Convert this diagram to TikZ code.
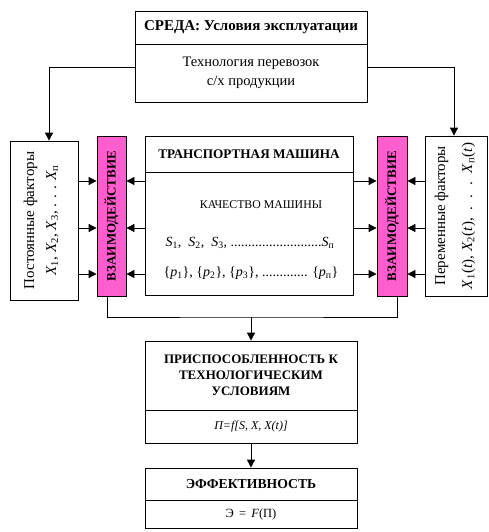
\documentclass[tikz,border=0pt]{standalone}
\usepackage{fontspec}
\setmainfont{Liberation Serif}
\usetikzlibrary{arrows.meta}
\definecolor{vzpink}{RGB}{255,94,206}
\newcommand{\xs}[1]{\textit{X}\textsubscript{#1}}
\newcommand{\fsz}[1]{\fontsize{#1}{#1}\selectfont}
\begin{document}
\begin{tikzpicture}[x=1pt, y=-1pt,
    box/.style={draw, line width=0.8pt, inner sep=0pt},
    vzbox/.style={box, fill=vzpink, minimum width=29pt, minimum height=160pt},
    hdr/.style={font=\fsz{13}\bfseries},
    txt/.style={font=\fsz{14}},
    arr/.style={-{Triangle[length=8pt,width=8pt]}, line width=0.8pt}]
        \useasboundingbox (0,0) rectangle (488,532);

        % Среда
        \node[box, hdr, font=\fsz{15}\bfseries, minimum width=232pt, minimum height=33pt] (sreda) at (251,27.5) {СРЕДА: Условия эксплуатации};
        \node[box, txt, font=\fsz{14.5}, minimum width=232pt, minimum height=58pt, align=center] (tech) at (251,73) {Технология перевозок\\[4pt] с/х продукции};

        % Факторы
        \node[box, minimum width=68pt, minimum height=159pt] (postL) at (44,220.5) {};
        \node[txt, font=\fsz{15}, rotate=90, align=center] (postT) at ([xshift=-3pt]postL.center) {Постоянные факторы\\[7pt] \xs{1}, \xs{2}, \xs{3}, . . . \xs{п}};
        \node[box, minimum width=62pt, minimum height=160pt] (perR) at (456,216) {};
        \node[txt, font=\fsz{15}, rotate=90, align=center] (perT) at ([xshift=-1pt]perR.center) {Переменные факторы\\[12pt] \xs{1}(\textit{t}), \xs{2}(\textit{t}), \ . \ . \ . \ \xs{п}(\textit{t})};

        % Взаимодействие
        \node[vzbox] (vzL) at (111.5,216) {};
        \node[hdr, rotate=90] (vzLT) at (vzL.center) {ВЗАИМОДЕЙСТВИЕ};
        \node[vzbox, minimum width=30pt] (vzR) at (392,216) {};
        \node[hdr, rotate=90] (vzRT) at (vzR.center) {ВЗАИМОДЕЙСТВИЕ};

        % Транспортная машина
        \node[box, hdr, font=\fsz{13.2}\bfseries, minimum width=208pt, minimum height=36pt] (tm) at (249,154) {ТРАНСПОРТНАЯ МАШИНА};
        \node[box, minimum width=208pt, minimum height=123pt] (kach) at (249,233.5) {};
        \node[txt, font=\fsz{11.8}] (kachT) at (261,205) {КАЧЕСТВО МАШИНЫ};
        \node[txt] (sLine) at (250,243) {\textit{S}\textsubscript{1}, \ \textit{S}\textsubscript{2}, \ \textit{S}\textsubscript{3}, ..........................\textit{S}\textsubscript{п}};
        \node[txt] (pLine) at (251,273) {\{\textit{p}\textsubscript{1}\}, \{\textit{p}\textsubscript{2}\}, \{\textit{p}\textsubscript{3}\}, ............. \{\textit{p}\textsubscript{п}\}};

        % Приспособленность и эффективность
        \node[box, hdr, minimum width=212pt, minimum height=69pt, align=center] (prisp) at (251,375.5) {ПРИСПОСОБЛЕННОСТЬ К\\[3pt] ТЕХНОЛОГИЧЕСКИМ\\[3pt] УСЛОВИЯМ};
        \node[box, font=\fsz{12}, minimum width=212pt, minimum height=33pt] (pif) at (251,426.5) {\textit{П=f[S, X, X(t)]}};
        \node[box, hdr, font=\fsz{13.7}\bfseries, minimum width=212pt, minimum height=32pt] (eff) at (251,484) {ЭФФЕКТИВНОСТЬ};
        \node[box, font=\fsz{12.5}, minimum width=212pt, minimum height=28pt] (effF) at (251,514) {Э \,=\, \textit{F}(П)};

        % Стрелки
        \draw[arr] ([yshift=6pt]tech.west) -| ([xshift=5pt]postL.north);
        \draw[arr] ([yshift=6pt]tech.east) -| ([xshift=-2pt]perR.north);
        \foreach \yy in {181,228,274} {
            \draw[arr] (postL.east |- 0,\yy) -- (vzL.west |- 0,\yy);
            \draw[arr] (kach.west |- 0,\yy) -- (vzL.east |- 0,\yy);
            \draw[arr] (kach.east |- 0,\yy) -- (vzR.west |- 0,\yy);
            \draw[arr] (perR.west |- 0,\yy) -- (vzR.east |- 0,\yy);
        }
        \coordinate (join) at (251,317);
        \draw[line width=0.8pt] ([xshift=-4.5pt]vzL.south) |- (join) -| ([xshift=5pt]vzR.south);
        \draw[arr] (join) -- (prisp.north);
        \draw[arr] (pif.south) -- (eff.north);

    \end{tikzpicture}
\end{document}
